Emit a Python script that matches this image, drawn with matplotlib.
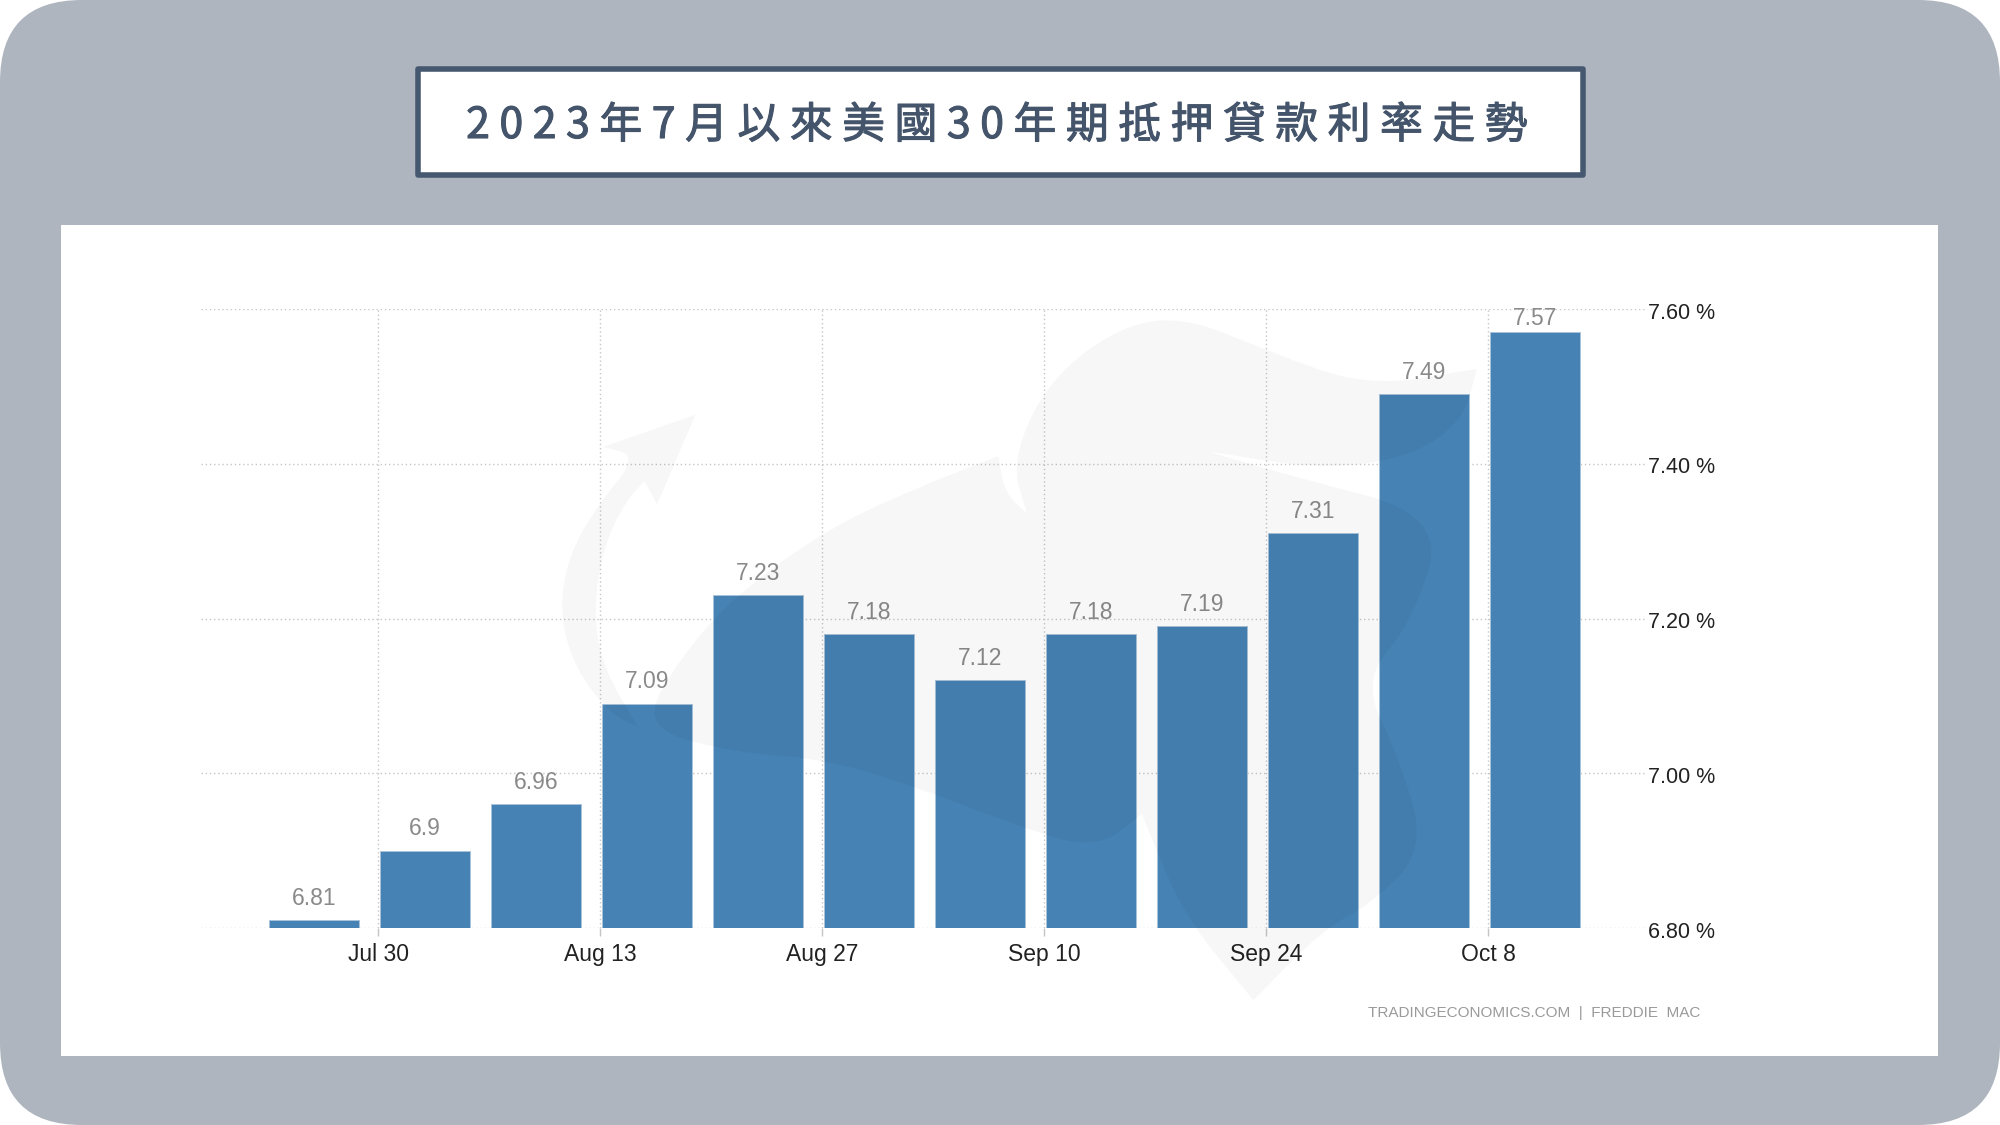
import matplotlib
matplotlib.use('Agg')
import pandas as pd
import matplotlib.dates as mdates
import matplotlib.patheffects as pe
from matplotlib import pyplot as plt
from matplotlib.patches import FancyBboxPatch, Rectangle, PathPatch
from matplotlib.path import Path
from matplotlib.transforms import ScaledTranslation

title = '2 0 2 3 年 7 月 以 來 美 國 3 0 年 期 抵 押 貸 款 利 率 走 勢'
source = 'TRADINGECONOMICS.COM  |  FREDDIE  MAC'
week_dates = pd.date_range('2023-07-26', periods=12, freq='7D')
rates = [6.81, 6.9, 6.96, 7.09, 7.23, 7.18, 7.12, 7.18, 7.19, 7.31, 7.49, 7.57]
rate_labels = ['6.81', '6.9', '6.96', '7.09', '7.23', '7.18', '7.12', '7.18', '7.19', '7.31', '7.49', '7.57']
x_ticks = pd.to_datetime(['2023-07-30', '2023-08-13', '2023-08-27', '2023-09-10', '2023-09-24', '2023-10-08'])
x_labels = ['Jul 30', 'Aug 13', 'Aug 27', 'Sep 10', 'Sep 24', 'Oct 8']
y_ticks = [6.8, 7.0, 7.2, 7.4, 7.6]
y_labels = ['6.80 %', '7.00 %', '7.20 %', '7.40 %', '7.60 %']

plt.rcParams['font.family'] = ['Liberation Sans', 'DejaVu Sans']

W, H = 2000, 1125
fig = plt.figure(figsize=(20, 11.25), dpi=100, facecolor='white')

# background layer in pixel coordinates
bg = fig.add_axes([0, 0, 1, 1], zorder=0)
bg.set_xlim(0, W)
bg.set_ylim(H, 0)
bg.axis('off')
bg.add_patch(FancyBboxPatch((0, 0), W, H, boxstyle='round,pad=0,rounding_size=82',
                            facecolor='#aeb5bf', edgecolor='none'))
bg.add_patch(Rectangle((61, 225), 1877, 831, facecolor='white', edgecolor='none'))
bg.add_patch(Rectangle((417.5, 68.5), 1165, 106, facecolor='white', edgecolor='#465870',
                       linewidth=4, joinstyle='round'))
# regular weight with a thin stroke, sits between the installed regular and bold
bg.text(997, 126, title, ha='center', va='center', fontsize=30.8, color='#44546a',
        family=['Noto Sans CJK TC', 'DejaVu Sans'],
        path_effects=[pe.withStroke(linewidth=0.8, foreground='#44546a')])
bg.text(1700, 1013, source, ha='right', va='center', fontsize=11, color='#9a9a9a')

# chart, axes box runs from grid left to grid right
ax = fig.add_axes([201 / W, 1 - 928 / H, (1645 - 201) / W, (928 - 309) / H], zorder=1)
ax.patch.set_alpha(0)
px_per_day = 111 / 7
ax.bar(week_dates, rates, width=5.62, color='#4682b4', edgecolor='#a8c3da', linewidth=0.6, zorder=3)
start = mdates.date2num(week_dates[0])
ax.set_xlim(start - (314 - 201) / px_per_day, start + (1645 - 314) / px_per_day)
ax.set_ylim(6.8, 7.6)

# gridlines sit a hair right of the whole date
ax.set_xticks(x_ticks + pd.Timedelta(hours=1))
ax.set_xticklabels(x_labels, fontsize=16.5, color='#222222')
ax.yaxis.tick_right()
ax.set_yticks(y_ticks)
ax.set_yticklabels(y_labels, fontsize=15.5, color='#222222')
ax.tick_params(axis='y', length=0, pad=2)
ax.tick_params(axis='x', length=6, width=1, color='#c4c4c4', pad=4.5)
ax.grid(True, color='#c6c6c6', linewidth=1, linestyle=(0, (1, 2)), zorder=1)
ax.set_axisbelow(True)
for s in ax.spines.values():
    s.set_visible(False)
for lab in ax.get_yticklabels():
    lab.set_transform(lab.get_transform() + ScaledTranslation(0, -1.2 / 72, fig.dpi_scale_trans))

for d, r, lab in zip(week_dates, rates, rate_labels):
    off = 5.5 if lab == '7.57' else 11
    ax.annotate(lab, (d, r), xytext=(0, off), textcoords='offset points', ha='center',
                va='baseline', fontsize=16.5, color='#8a8a8a', annotation_clip=False, zorder=4)

# faint bull and arrow watermark over everything
wm = fig.add_axes([0, 0, 1, 1], zorder=2)
wm.set_xlim(0, W)
wm.set_ylim(H, 0)
wm.axis('off')


def smooth_path(pts):
    # quadratic curves through midpoints, a repeated point gives a sharp corner
    pts = [(520 + x / 1.568, 300 + y / 2.178) for x, y in pts]
    mid = lambda a, b: ((a[0] + b[0]) / 2, (a[1] + b[1]) / 2)
    verts = [mid(pts[-1], pts[0])]
    codes = [Path.MOVETO]
    for i, p in enumerate(pts):
        verts += [p, mid(p, pts[(i + 1) % len(pts)])]
        codes += [Path.CURVE3, Path.CURVE3]
    return Path(verts, codes)


bull = [(250, 780), (340, 640), (480, 500), (620, 410), (750, 340), (750, 340), (760, 420), (795, 465), (795, 465),
        (770, 350), (830, 170), (950, 50), (1050, 40), (1170, 110), (1330, 190), (1500, 150), (1500, 150),
        (1480, 260), (1400, 340), (1260, 370), (1080, 330), (1080, 330), (1200, 380), (1450, 470),
        (1400, 700), (1320, 830), (1380, 1000), (1420, 1200), (1330, 1320), (1260, 1370),
        (1150, 1525), (1150, 1525), (1040, 1340), (975, 1120), (975, 1120), (900, 1200), (750, 1130), (620, 1060),
        (480, 1000), (330, 985), (190, 930)]
arrow = [(275, 250), (275, 250), (130, 320), (130, 320), (185, 340), (120, 450), (75, 560), (62, 680), (85, 800),
         (140, 900), (185, 930), (185, 930), (130, 800), (115, 680), (130, 540), (165, 440), (195, 395), (195, 395),
         (215, 445), (215, 445)]
for pts in (bull, arrow):
    wm.add_patch(PathPatch(smooth_path(pts), facecolor='black', edgecolor='none', alpha=0.03))

plt.savefig('out.png', dpi=100)
